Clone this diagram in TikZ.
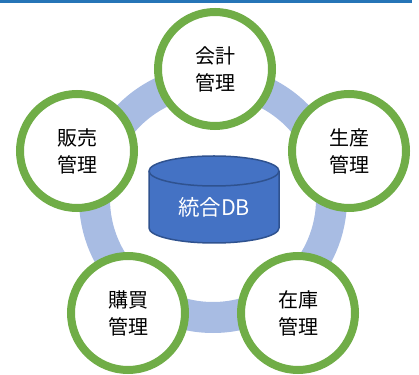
\documentclass[tikz,border=0pt]{standalone}
\usepackage{fontspec}
\setmainfont{Noto Sans CJK JP}
\usetikzlibrary{calc}

\definecolor{ringblue}{RGB}{168,188,227}
\definecolor{taskgreen}{RGB}{112,173,71}
\definecolor{dbblue}{RGB}{68,114,196}
\definecolor{dbedge}{RGB}{47,82,143}
\definecolor{barblue}{RGB}{38,117,183}

\begin{document}
\begin{tikzpicture}[x=1pt, y=1pt,
	task/.style={circle, draw=taskgreen, line width=8pt, fill=white, text=black,
		minimum size=114pt, inner sep=0pt, align=center,
		font=\fontsize{20}{27}\selectfont}]
	%definition of canvas
	\useasboundingbox (0,0) rectangle (419,374);
	\fill [barblue] (0,370.5) rectangle (412,374);
	
	%definition of centre and ring radius
	\coordinate (O) at (213,175);
	\def\R{118.5}
	
	%ring
	\draw [ringblue, line width=31pt] (O) circle [radius = \R];
	
	%management circles
	\node [task] (kaikei) at (215,305) {会計\\管理};
	\node [task] (seisan) at (349,223) {生産\\管理};
	\node [task] (zaiko) at (298,61) {在庫\\管理};
	\node [task] (kobai) at (128,61) {購買\\管理};
	\node [task] (hanbai) at (77,223) {販売\\管理};
	
	%database cylinder
	\def\dbW{65}
	\def\dbH{15}
	\coordinate (dbtop) at (214,203);
	\coordinate (dbbot) at (214,146);
	
	\filldraw [fill=dbblue, draw=dbedge, line width=1.5pt]
		($(dbtop)+(-\dbW,0)$) -- ($(dbbot)+(-\dbW,0)$)
		arc [start angle=180, end angle=360, x radius=\dbW, y radius=\dbH]
		-- ($(dbtop)+(\dbW,0)$)
		arc [start angle=0, end angle=180, x radius=\dbW, y radius=\dbH] -- cycle;
	\draw [dbedge, line width=1.5pt] ($(dbtop)+(-\dbW,0)$)
		arc [start angle=180, end angle=360, x radius=\dbW, y radius=\dbH];
	
	\node [text=white, font=\fontsize{21.5}{24}\selectfont] (db) at (214,167) {統合DB};
\end{tikzpicture}
\end{document}
